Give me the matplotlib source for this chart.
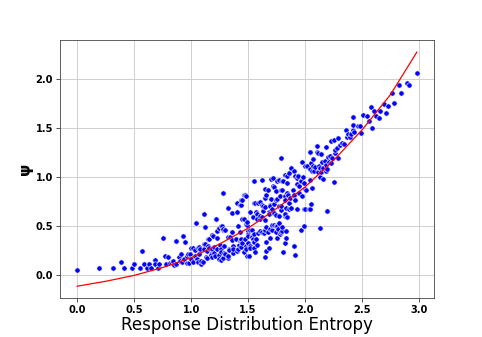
import matplotlib.pyplot as plt

# (entropy, psi) pairs, grouped by entropy range
band_0_to_1 = [
    (0.00, 0.05), (0.19, 0.08), (0.31, 0.08), (0.38, 0.14), (0.41, 0.08), (0.48, 0.08),
    (0.50, 0.12), (0.55, 0.08), (0.57, 0.25), (0.59, 0.12), (0.61, 0.08), (0.63, 0.12),
    (0.65, 0.08), (0.68, 0.16), (0.68, 0.12), (0.71, 0.08), (0.72, 0.12), (0.75, 0.38),
    (0.77, 0.20), (0.78, 0.12), (0.80, 0.19), (0.81, 0.13), (0.83, 0.13), (0.84, 0.15),
    (0.85, 0.11), (0.87, 0.35), (0.87, 0.12), (0.89, 0.19), (0.90, 0.15), (0.91, 0.22),
    (0.92, 0.14), (0.93, 0.40), (0.94, 0.17), (0.95, 0.34), (0.96, 0.20), (0.96, 0.13),
    (0.97, 0.22), (0.98, 0.13), (0.99, 0.22), (1.00, 0.17),
]
band_1_to_15 = [
    (1.00, 0.28), (1.00, 0.17), (1.02, 0.28), (1.02, 0.14), (1.03, 0.26), (1.03, 0.20),
    (1.04, 0.53), (1.05, 0.17), (1.06, 0.28), (1.06, 0.14), (1.07, 0.29), (1.07, 0.22),
    (1.08, 0.27), (1.09, 0.12), (1.09, 0.15), (1.10, 0.14), (1.11, 0.62), (1.11, 0.32),
    (1.11, 0.27), (1.12, 0.49), (1.12, 0.32), (1.13, 0.19), (1.14, 0.25), (1.14, 0.18),
    (1.15, 0.30), (1.15, 0.37), (1.16, 0.37), (1.16, 0.28), (1.17, 0.22), (1.17, 0.21),
    (1.18, 0.27), (1.18, 0.41), (1.18, 0.19), (1.19, 0.40), (1.20, 0.23), (1.20, 0.29),
    (1.21, 0.20), (1.22, 0.57), (1.23, 0.38), (1.23, 0.27), (1.23, 0.45), (1.24, 0.48),
    (1.24, 0.21), (1.24, 0.17), (1.25, 0.31), (1.26, 0.16), (1.26, 0.27), (1.26, 0.50),
    (1.26, 0.24), (1.27, 0.50), (1.28, 0.84), (1.28, 0.46), (1.28, 0.47), (1.28, 0.18),
    (1.29, 0.23), (1.29, 0.30), (1.30, 0.46), (1.30, 0.22), (1.32, 0.69), (1.32, 0.18),
    (1.32, 0.20), (1.32, 0.39), (1.33, 0.27), (1.33, 0.26), (1.34, 0.39), (1.36, 0.63),
    (1.36, 0.44), (1.36, 0.36), (1.37, 0.23), (1.37, 0.30), (1.37, 0.27), (1.39, 0.37),
    (1.40, 0.64), (1.40, 0.74), (1.40, 0.25), (1.41, 0.27), (1.41, 0.50), (1.42, 0.31),
    (1.43, 0.44), (1.43, 0.35), (1.43, 0.72), (1.44, 0.72), (1.44, 0.35), (1.44, 0.77),
    (1.44, 0.29), (1.44, 0.37), (1.45, 0.77), (1.45, 0.57), (1.45, 0.33), (1.46, 0.57),
    (1.46, 0.82), (1.46, 0.24), (1.47, 0.82), (1.47, 0.37), (1.48, 0.30), (1.48, 0.81),
    (1.48, 0.52), (1.48, 0.27), (1.49, 0.51), (1.49, 0.54), (1.49, 0.20), (1.50, 0.45),
    (1.50, 0.42), (1.50, 0.33), (1.50, 0.40),
]
band_15_to_2 = [
    (1.51, 0.20), (1.52, 0.64), (1.52, 0.30), (1.52, 0.28), (1.52, 0.46), (1.53, 0.40),
    (1.53, 0.39), (1.53, 0.46), (1.54, 0.59), (1.54, 0.37), (1.55, 0.96), (1.55, 0.74),
    (1.55, 0.28), (1.55, 0.34), (1.55, 0.42), (1.56, 0.24), (1.56, 0.74), (1.57, 0.37),
    (1.57, 0.64), (1.58, 0.62), (1.58, 0.31), (1.58, 0.57), (1.59, 0.74), (1.59, 0.43),
    (1.60, 0.57), (1.60, 0.60), (1.60, 0.45), (1.60, 0.75), (1.62, 0.97), (1.62, 0.44),
    (1.62, 0.72), (1.62, 0.59), (1.63, 0.71), (1.63, 0.65), (1.64, 0.43), (1.65, 0.88),
    (1.65, 0.70), (1.65, 0.46), (1.65, 0.19), (1.65, 0.79), (1.65, 0.56), (1.66, 0.82),
    (1.66, 0.25), (1.66, 0.49), (1.66, 0.34), (1.67, 0.87), (1.67, 0.44), (1.68, 0.64),
    (1.68, 0.62), (1.68, 0.28), (1.69, 0.72), (1.69, 0.47), (1.69, 0.38), (1.69, 0.71),
    (1.70, 0.98), (1.70, 0.78), (1.71, 0.67), (1.71, 0.46), (1.71, 0.51), (1.72, 0.99),
    (1.72, 0.91), (1.73, 0.90), (1.73, 0.51), (1.73, 0.73), (1.73, 0.63), (1.74, 0.86),
    (1.74, 0.77), (1.74, 0.61), (1.74, 0.50), (1.74, 0.44), (1.75, 0.50), (1.75, 0.38),
    (1.75, 0.96), (1.75, 0.78), (1.76, 0.47), (1.77, 0.71), (1.77, 0.97), (1.77, 0.60),
    (1.77, 0.53), (1.78, 0.81), (1.78, 0.42), (1.79, 0.87), (1.79, 0.66), (1.79, 1.19),
    (1.79, 0.71), (1.79, 0.44), (1.80, 0.45), (1.80, 0.96), (1.80, 0.87), (1.80, 0.49),
    (1.81, 0.96), (1.81, 0.24), (1.82, 0.81), (1.82, 0.60), (1.82, 0.62), (1.82, 0.77),
    (1.82, 0.33), (1.82, 1.02), (1.83, 0.69), (1.83, 0.38), (1.83, 0.45), (1.84, 0.94),
    (1.84, 1.01), (1.84, 0.84), (1.84, 0.59), (1.85, 0.82), (1.86, 0.74), (1.86, 1.04),
    (1.86, 0.68), (1.87, 0.79), (1.88, 1.09), (1.88, 0.69), (1.89, 0.87), (1.90, 1.06),
    (1.90, 0.81), (1.90, 0.82), (1.90, 0.30), (1.91, 1.01), (1.91, 0.77), (1.91, 0.21),
    (1.93, 0.99), (1.93, 0.93), (1.93, 0.68), (1.94, 1.01), (1.95, 0.91), (1.95, 0.84),
    (1.96, 0.96), (1.96, 0.46), (1.97, 1.15), (1.97, 0.81), (1.98, 1.00), (1.99, 0.94),
    (1.99, 0.67), (1.99, 0.50),
]
band_2_to_3 = [
    (2.00, 0.88), (2.00, 0.67), (2.00, 1.11), (2.01, 0.87), (2.02, 1.11), (2.03, 0.68),
    (2.04, 1.08), (2.04, 0.97), (2.04, 1.25), (2.04, 0.67), (2.05, 1.14), (2.05, 0.73),
    (2.06, 1.06), (2.06, 0.89), (2.07, 1.18), (2.07, 1.11), (2.08, 1.06), (2.09, 1.10),
    (2.10, 1.32), (2.10, 1.25), (2.11, 1.24), (2.11, 1.05), (2.12, 1.11), (2.13, 1.09),
    (2.13, 1.00), (2.13, 0.48), (2.14, 1.05), (2.14, 1.23), (2.15, 1.15), (2.16, 1.09),
    (2.16, 0.98), (2.17, 1.16), (2.18, 1.12), (2.18, 1.06), (2.18, 1.31), (2.19, 1.08),
    (2.19, 0.65), (2.20, 1.20), (2.21, 1.15), (2.22, 1.21), (2.23, 1.14), (2.23, 1.37),
    (2.24, 1.19), (2.25, 1.38), (2.25, 0.95), (2.26, 1.24), (2.26, 1.27), (2.28, 1.30),
    (2.29, 1.40), (2.29, 1.19), (2.31, 1.33), (2.32, 1.35), (2.34, 1.34), (2.36, 1.48),
    (2.37, 1.41), (2.38, 1.44), (2.39, 1.41), (2.40, 1.44), (2.42, 1.48), (2.42, 1.61),
    (2.42, 1.53), (2.43, 1.46), (2.46, 1.52), (2.48, 1.52), (2.49, 1.45), (2.51, 1.63),
    (2.54, 1.62), (2.56, 1.57), (2.58, 1.71), (2.59, 1.50), (2.60, 1.67), (2.62, 1.62),
    (2.65, 1.60), (2.66, 1.67), (2.69, 1.74), (2.71, 1.65), (2.73, 1.72), (2.76, 1.85),
    (2.78, 1.75), (2.82, 1.94), (2.84, 1.85), (2.89, 1.96), (2.91, 1.94), (2.98, 2.06),
]

# fitted curve, read at a few entropy values
fit_x = [0.0, 0.25, 0.5, 0.75, 1.0, 1.25, 1.5, 1.75, 2.0, 2.25, 2.5, 2.75, 2.98]
fit_y = [-0.11, -0.06, 0.0, 0.08, 0.18, 0.32, 0.48, 0.68, 0.90, 1.17, 1.48, 1.84, 2.27]

points = band_0_to_1 + band_1_to_15 + band_15_to_2 + band_2_to_3
xs = [p[0] for p in points]
ys = [p[1] for p in points]

fig = plt.figure(figsize=(482 / 75, 337 / 75), dpi=75)
fig.subplots_adjust(bottom=0.116)
ax = fig.add_subplot(111)
ax.scatter(xs, ys, s=26, color="blue", edgecolor="white", linewidth=0.6, zorder=3)
ax.plot(fit_x, fit_y, color="red", linewidth=1.2, zorder=4)

ax.grid(True, color="#d0d0d0", linewidth=1)
ax.set_axisbelow(True)
ax.set_xticks([0.0, 0.5, 1.0, 1.5, 2.0, 2.5, 3.0])
ax.set_yticks([0.0, 0.5, 1.0, 1.5, 2.0])
for lab in ax.get_xticklabels() + ax.get_yticklabels():
    lab.set_fontweight("bold")
    lab.set_fontsize(9.5)
ax.tick_params(colors="#333333", labelcolor="black")
for sp in ax.spines.values():
    sp.set_color("#444444")

ax.set_xlabel("Response Distribution Entropy", fontsize=16, labelpad=1)
ax.set_ylabel("ψ", fontsize=15, fontweight="bold", labelpad=2)

fig.savefig("out.png", dpi=75)
